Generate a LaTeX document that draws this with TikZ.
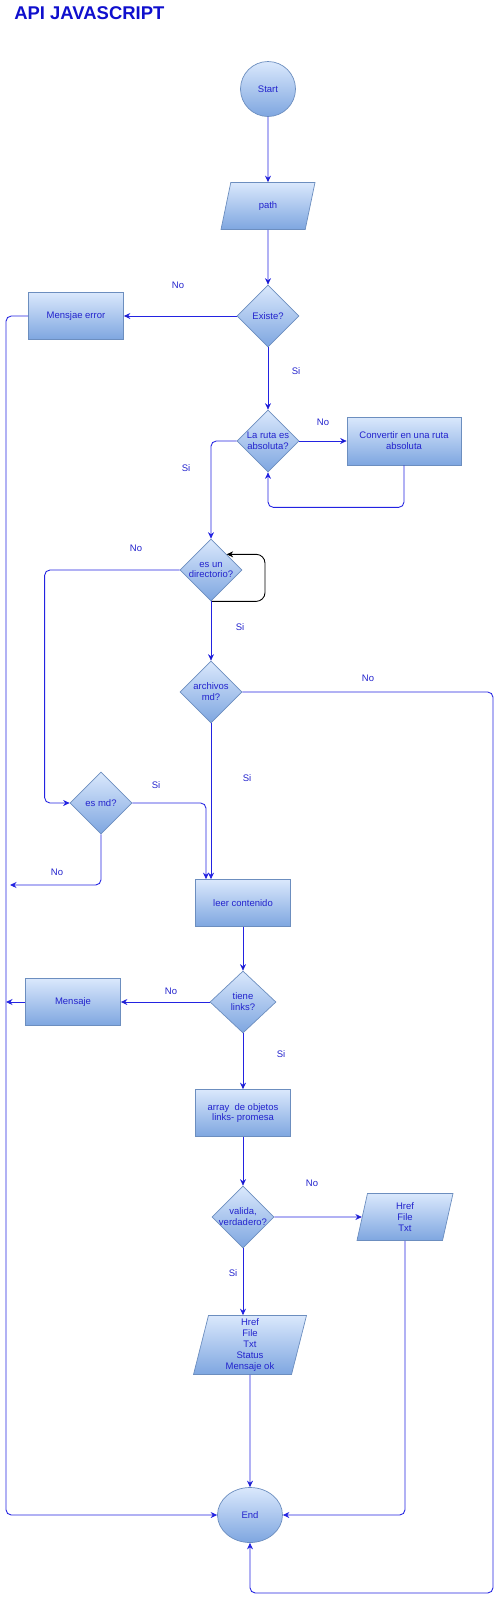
\documentclass[tikz,border=0pt]{standalone}
\usepackage{fontspec}
\setmainfont{Liberation Sans}
\usetikzlibrary{shapes.geometric,arrows.meta,positioning,calc}
\definecolor{flowfill}{HTML}{DAE8FC}
\definecolor{flowshade}{HTML}{7EA6E0}
\definecolor{flowline}{HTML}{6C8EBF}
\definecolor{linkblue}{RGB}{35,35,225}
\definecolor{textblue}{RGB}{35,35,205}
\definecolor{titleblue}{RGB}{15,15,205}
\tikzstyle{flowbox}=[draw=flowline, top color=flowfill, bottom color=flowshade, text=textblue, font=\fontsize{5.4}{6.2}\selectfont, align=center]
\tikzstyle{proc}=[flowbox, rectangle, minimum width=1.9cm, minimum height=0.94cm, inner sep=1pt]
\tikzstyle{decision}=[flowbox, diamond, minimum width=1.24cm, minimum height=1.24cm, aspect=1, inner sep=-1pt]
\tikzstyle{io}=[flowbox, trapezium, trapezium left angle=75, trapezium right angle=105, trapezium stretches body, minimum height=0.94cm, inner sep=1pt]
\tikzstyle{terminal}=[flowbox, ellipse, inner sep=0pt]
\tikzstyle{flow}=[->, draw=linkblue, line width=0.5pt, rounded corners=3pt]
\tikzstyle{lbl}=[text=textblue, font=\fontsize{5.4}{6.2}\selectfont, inner sep=0pt]

\begin{document}
\begin{tikzpicture}[>={Stealth[length=1.3mm,width=1.2mm]}]
\useasboundingbox (0,0) rectangle (10,-32);

\node[anchor=west, text=titleblue, font=\fontsize{10.5}{12}\bfseries\selectfont, inner sep=0pt](title) at (0.28,-0.26){API JAVASCRIPT};

\node[terminal, minimum width=1.1cm, minimum height=1.1cm](Start) at (5.36,-1.78){Start};
\node[io, minimum width=1.88cm, inner ysep=10.6pt, trapezium left angle=78, trapezium right angle=102](inPath)[below of = Start, yshift = -1.34cm]{path};
\node[decision](Existe)[below of = inPath, yshift = -1.2cm]{Existe?};
\node[proc](MensjaeError)[left of = Existe, xshift = -2.84cm]{Mensjae error};
\node[decision](rutaAbs)[below of = Existe, yshift = -1.5cm]{La ruta es\\absoluta?};
\node[proc, minimum width=2.28cm, minimum height=0.96cm](convertir)[right of = rutaAbs, xshift = 1.72cm]{Convertir en una ruta\\absoluta};
\node[decision](esDir)[below of = rutaAbs, xshift = -1.14cm, yshift = -1.58cm]{es un\\directorio?};
\node[decision](archivosMd)[below of = esDir, yshift = -1.44cm]{archivos\\md?};
\node[decision](esMd)[below of = archivosMd, xshift = -2.2cm, yshift = -1.22cm]{es md?};
\node[proc](leer)[below of = archivosMd, xshift = 0.64cm, yshift = -3.22cm]{leer contenido};
\node[decision, minimum width=1.32cm](tieneLinks)[below of = leer, yshift = -0.98cm]{tiene\\links?};
\node[proc](mensaje)[left of = tieneLinks, xshift = -2.4cm]{Mensaje};
\node[proc](arrayLinks)[below of = tieneLinks, yshift = -1.22cm]{array~ de objetos\\links- promesa};
\node[decision](valida)[below of = arrayLinks, yshift = -1.08cm]{valida,\\verdadero?};
\node[io, minimum width=1.92cm, trapezium left angle=72, trapezium right angle=108](hrefFile)[right of = valida, xshift = 2.24cm]{Href\\File\\Txt};
\node[io, minimum width=2.26cm, minimum height=1.18cm](salida)[below of = valida, xshift = 0.14cm, yshift = -1.56cm]{Href\\File\\Txt\\Status\\Mensaje ok};
\node[terminal, minimum width=1.3cm, minimum height=1.1cm](End)[below of = salida, yshift = -2.4cm]{End};

\coordinate (railL) at (0.12,0);
\coordinate (railR) at (9.86,-31.86);
\coordinate (esMdOut) at (0.2,-17.7);

\path[flow] (Start)edge(inPath);
\path[flow] (inPath)edge(Existe);
\path[flow] (Existe)edge(MensjaeError);
\path[flow] (Existe)edge(rutaAbs);
\path[flow] (rutaAbs)edge(convertir);
\path[flow] (convertir.south) -- ++(0,-0.84) -| (rutaAbs.south);
\path[flow] (rutaAbs.west) -| (esDir.north);
\path[flow, draw=black, rounded corners=5pt] (esDir.south) -- ++(1.08,0) |- (esDir.north east);
\path[flow] (esDir.west) -| ([xshift=-0.5cm]esMd.west) -- (esMd.west);
\path[flow] (esDir)edge(archivosMd);
\path[flow] (archivosMd.south) -- (archivosMd.south |- leer.north);
\path[flow] (esMd.east) -| ([xshift=-0.1cm]archivosMd.south |- leer.north);
\path[flow] (esMd.south) |- (esMdOut);
\path[flow] (archivosMd.east) -| (railR) -| (End.south);
\path[flow] (MensjaeError.west) -| (railL |- End.west) -- (End.west);
\path[flow] (leer)edge(tieneLinks);
\path[flow] (tieneLinks)edge(mensaje);
\path[flow] (mensaje.west) -- (mensaje.west -| railL);
\path[flow] (tieneLinks)edge(arrayLinks);
\path[flow] (arrayLinks)edge(valida);
\path[flow] (valida)edge(hrefFile);
\path[flow] (valida.south) -- (valida.south |- salida.north);
\path[flow] (salida)edge(End);
\path[flow] (hrefFile.south) |- (End.east);

\node[lbl](noExiste) at (3.56,-5.70){No};
\node[lbl](siExiste) at (5.92,-7.42){Si};
\node[lbl](noRuta) at (6.46,-8.44){No};
\node[lbl](siRuta) at (3.72,-9.36){Si};
\node[lbl](noDir) at (2.72,-10.96){No};
\node[lbl](siDir) at (4.80,-12.54){Si};
\node[lbl](noArchivos) at (7.36,-13.56){No};
\node[lbl](siArchivos) at (4.94,-15.56){Si};
\node[lbl](siEsMd) at (3.12,-15.70){Si};
\node[lbl](noEsMd) at (1.14,-17.44){No};
\node[lbl](noLinks) at (3.42,-19.82){No};
\node[lbl](siLinks) at (5.62,-21.08){Si};
\node[lbl](noValida) at (6.24,-23.66){No};
\node[lbl](siValida) at (4.66,-25.46){Si};

\end{tikzpicture}
\end{document}
